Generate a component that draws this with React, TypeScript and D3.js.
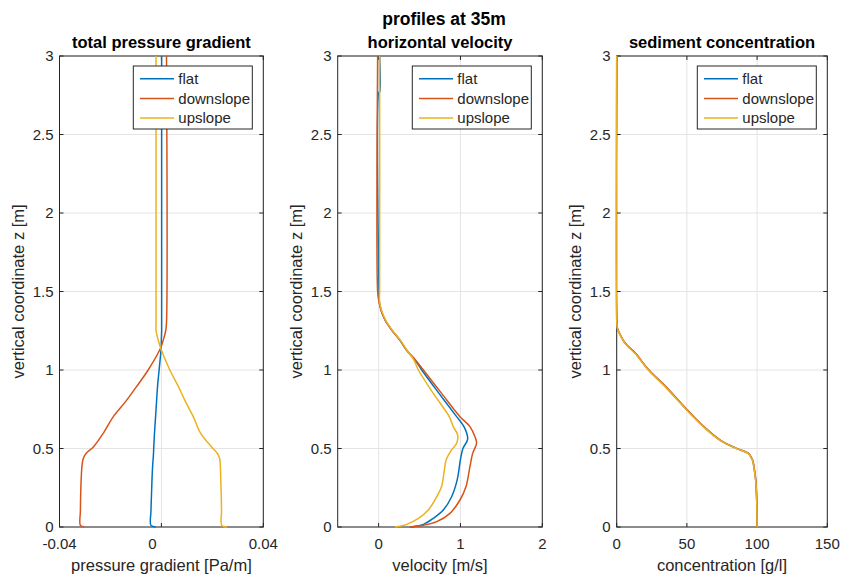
import React from "react";
import * as d3 from "d3";

// ---------- data ----------
const seriesNames = ["flat", "downslope", "upslope"];
const seriesColors = ["#0072BD", "#D95319", "#EDB120"];

const yTicks = [0, 0.5, 1, 1.5, 2, 2.5, 3];

// panel 1: total pressure gradient [Pa/m]
const pressureZ = [3, 1.3, 1.25, 1.2, 1.14, 1.0, 0.9, 0.8, 0.7, 0.6, 0.51, 0.47, 0.44, 0.4, 0.3, 0.2, 0.1, 0.01, 0];
const pressureFlat = [0.0001, 0.0001, 0.0001, 0.0, -0.0001, -0.0009, -0.0015, -0.0019, -0.0023, -0.0027, -0.003, -0.0031, -0.0032, -0.0034, -0.0037, -0.0039, -0.0041, -0.0041, -0.0022];
const pressureDown = [0.002, 0.002, 0.0017, 0.0009, -0.0003, -0.0052, -0.0095, -0.014, -0.019, -0.0227, -0.0267, -0.0295, -0.0306, -0.0311, -0.0315, -0.0317, -0.0318, -0.0318, -0.0303];
const pressureUp = [-0.0021, -0.0021, -0.0021, -0.0014, -0.0003, 0.0033, 0.0065, 0.0094, 0.0126, 0.0153, 0.0197, 0.0219, 0.0228, 0.0231, 0.0233, 0.0235, 0.0236, 0.0237, 0.0258];
const pressureTicks = [-0.04, 0, 0.04];

// panel 2: horizontal velocity [m/s]
const velFlatZ = [3, 2.77, 2.77, 1.5, 1.446, 1.38, 1.318, 1.255, 1.19, 1.127, 1.064, 1.0, 0.851, 0.703, 0.639, 0.56, 0.5, 0.43, 0.3, 0.193, 0.108, 0.055, 0.017, 0];
const velFlat = [0.012, 0.012, 0.004, 0.004, 0.005, 0.03, 0.08, 0.16, 0.26, 0.34, 0.445, 0.527, 0.738, 0.953, 1.043, 1.088, 1.03, 1.0, 0.96, 0.892, 0.79, 0.668, 0.547, 0.38];
const velDownZ = [3, 1.5, 1.446, 1.38, 1.318, 1.255, 1.19, 1.127, 1.064, 1.0, 0.851, 0.703, 0.639, 0.575, 0.533, 0.469, 0.384, 0.257, 0.172, 0.087, 0.034, 0.011, 0];
const velDown = [-0.012, -0.012, 0.0, 0.03, 0.08, 0.16, 0.26, 0.34, 0.45, 0.547, 0.77, 0.994, 1.116, 1.177, 1.197, 1.149, 1.116, 1.067, 0.994, 0.872, 0.71, 0.547, 0.384];
const velUpZ = [3, 1.5, 1.446, 1.38, 1.318, 1.255, 1.19, 1.127, 1.064, 1.0, 0.851, 0.703, 0.639, 0.586, 0.533, 0.49, 0.427, 0.35, 0.26, 0.193, 0.108, 0.055, 0.017, 0];
const velUp = [0.012, 0.012, 0.01, 0.035, 0.085, 0.165, 0.265, 0.345, 0.43, 0.486, 0.668, 0.863, 0.912, 0.966, 0.953, 0.89, 0.825, 0.8, 0.77, 0.71, 0.607, 0.486, 0.344, 0.2];
const velocityTicks = [0, 1, 2];

// panel 3: sediment concentration [g/l]
const concZ = [3, 1.32, 1.265, 1.233, 1.17, 1.106, 1.0, 0.894, 0.745, 0.639, 0.552, 0.499, 0.469, 0.427, 0.361, 0.297, 0.17, 0];
const concFlat = [0, 0, 0.5, 2.0, 6.0, 13.2, 22.7, 34.7, 50.1, 61.9, 73.8, 85.6, 93.8, 96.7, 98.1, 99.0, 99.7, 100];
const concDown = [0, 0, 0.6, 2.1, 6.2, 13.4, 23.0, 35.0, 50.4, 62.1, 74.0, 85.8, 93.9, 96.8, 98.2, 99.1, 99.8, 100];
const concUp = [0, 0, 0.5, 1.9, 5.9, 13.0, 22.5, 34.4, 49.9, 61.7, 73.6, 85.5, 93.7, 96.6, 98.0, 99.0, 99.7, 100];
const concTicks = [0, 50, 100, 150];

// ---------- layout ----------
const W = 842;
const H = 577;
const TOP = 56;
const BOTTOM = 527;
const FONT = "'Liberation Sans', Arial, Helvetica, sans-serif";
const TXT = "#262626";
const GRID = "#e4e4e4";

type Series = { z: number[]; v: number[] };

interface PanelDef {
  title: string;
  xLabel: string;
  left: number;
  right: number;
  domain: [number, number];
  ticks: number[];
  fmt: (v: number) => string;
  labelDx?: (v: number) => number;
  series: Series[];
}

const panels: PanelDef[] = [
  {
    title: "total pressure gradient",
    xLabel: "pressure gradient [Pa/m]",
    left: 59.5,
    right: 263.3,
    domain: [-0.04, 0.04],
    ticks: pressureTicks,
    fmt: (v) => (v === 0 ? "0" : String(v)),
    labelDx: (v) => (v === 0 ? -9 : 0),
    series: [
      { z: pressureZ, v: pressureFlat },
      { z: pressureZ, v: pressureDown },
      { z: pressureZ, v: pressureUp },
    ],
  },
  {
    title: "horizontal velocity",
    xLabel: "velocity [m/s]",
    left: 337.7,
    right: 542.3,
    domain: [-0.5, 2],
    ticks: velocityTicks,
    fmt: (v) => String(v),
    series: [
      { z: velFlatZ, v: velFlat },
      { z: velDownZ, v: velDown },
      { z: velUpZ, v: velUp },
    ],
  },
  {
    title: "sediment concentration",
    xLabel: "concentration [g/l]",
    left: 616.7,
    right: 827.3,
    domain: [0, 150],
    ticks: concTicks,
    fmt: (v) => String(v),
    series: [
      { z: concZ, v: concFlat },
      { z: concZ, v: concDown },
      { z: concZ, v: concUp },
    ],
  },
];

const TICK_LEN = 4;

function Panel({ p, idx }: { p: PanelDef; idx: number }) {
  const x = d3.scaleLinear().domain(p.domain).range([p.left, p.right]);
  const y = d3.scaleLinear().domain([0, 3]).range([BOTTOM, TOP]);
  const line = d3
    .line<[number, number]>()
    .x((d) => x(d[0]))
    .y((d) => y(d[1]))
    .curve(d3.curveCatmullRom.alpha(0.5));
  const cx = (p.left + p.right) / 2;
  const cy = (TOP + BOTTOM) / 2;
  const clipId = `clip-${idx}`;
  const legLeft = p.right - 11 - 119;
  const legTop = TOP + 10;
  return (
    <g>
      <defs>
        <clipPath id={clipId}>
          <rect x={p.left - 1} y={TOP - 1} width={p.right - p.left + 2} height={BOTTOM - TOP + 2} />
        </clipPath>
      </defs>
      <rect x={p.left} y={TOP} width={p.right - p.left} height={BOTTOM - TOP} fill="#fff" />
      {/* grid */}
      {p.ticks.map((t) => (
        <line key={"gx" + t} x1={x(t)} x2={x(t)} y1={TOP} y2={BOTTOM} stroke={GRID} strokeWidth={1} />
      ))}
      {yTicks.map((t) => (
        <line key={"gy" + t} x1={p.left} x2={p.right} y1={y(t)} y2={y(t)} stroke={GRID} strokeWidth={1} />
      ))}
      {/* ticks */}
      {p.ticks.map((t) => (
        <g key={"tx" + t}>
          <line x1={x(t)} x2={x(t)} y1={BOTTOM} y2={BOTTOM - TICK_LEN} stroke={TXT} strokeWidth={1} />
          <line x1={x(t)} x2={x(t)} y1={TOP} y2={TOP + TICK_LEN} stroke={TXT} strokeWidth={1} />
          <text
            x={x(t) + (p.labelDx ? p.labelDx(t) : 0)}
            y={BOTTOM + 22}
            textAnchor="middle"
            fontSize={15}
            fill={TXT}
          >
            {p.fmt(t)}
          </text>
        </g>
      ))}
      {yTicks.map((t) => (
        <g key={"ty" + t}>
          <line x1={p.left} x2={p.left + TICK_LEN} y1={y(t)} y2={y(t)} stroke={TXT} strokeWidth={1} />
          <line x1={p.right} x2={p.right - TICK_LEN} y1={y(t)} y2={y(t)} stroke={TXT} strokeWidth={1} />
          <text x={p.left - 6} y={y(t)} dy="0.35em" textAnchor="end" fontSize={15} fill={TXT}>
            {String(t)}
          </text>
        </g>
      ))}
      {/* box */}
      <rect
        x={p.left}
        y={TOP}
        width={p.right - p.left}
        height={BOTTOM - TOP}
        fill="none"
        stroke={TXT}
        strokeWidth={1}
      />
      {/* lines */}
      <g clipPath={`url(#${clipId})`}>
        {p.series.map((s, i) => (
          <path
            key={i}
            d={line(s.z.map((zz, k) => [s.v[k], zz] as [number, number])) || ""}
            fill="none"
            stroke={seriesColors[i]}
            strokeWidth={1.5}
            strokeLinejoin="round"
          />
        ))}
      </g>
      {/* labels */}
      <text x={cx} y={BOTTOM + 44} textAnchor="middle" fontSize={16.5} fill={TXT}>
        {p.xLabel}
      </text>
      <text
        transform={`translate(${p.left - 36},${cy}) rotate(-90)`}
        textAnchor="middle"
        fontSize={16.5}
        fill={TXT}
      >
        vertical coordinate z [m]
      </text>
      <text x={cx} y={48} textAnchor="middle" fontSize={16.5} fontWeight="bold" fill="#000">
        {p.title}
      </text>
      {/* legend */}
      <rect x={legLeft} y={legTop} width={119} height={63} fill="#fff" stroke={TXT} strokeWidth={1} />
      {seriesNames.map((n, i) => (
        <g key={n}>
          <line
            x1={legLeft + 6.7}
            x2={legLeft + 40.7}
            y1={legTop + 12.7 + i * 19.7}
            y2={legTop + 12.7 + i * 19.7}
            stroke={seriesColors[i]}
            strokeWidth={1.5}
          />
          <text x={legLeft + 45} y={legTop + 12.7 + i * 19.7} dy="0.35em" fontSize={15} fill={TXT}>
            {n}
          </text>
        </g>
      ))}
    </g>
  );
}

export default function App() {
  return (
    <svg
      width={W}
      height={H}
      viewBox={`0 0 ${W} ${H}`}
      style={{ position: "absolute", left: 0, top: 0, background: "#fff", fontFamily: FONT }}
    >
      <rect x={0} y={0} width={W} height={H} fill="#fff" />
      <text x={444} y={25} textAnchor="middle" fontSize={17.5} fontWeight="bold" fill="#000">
        profiles at 35m
      </text>
      {panels.map((p, i) => (
        <Panel key={i} p={p} idx={i} />
      ))}
    </svg>
  );
}
